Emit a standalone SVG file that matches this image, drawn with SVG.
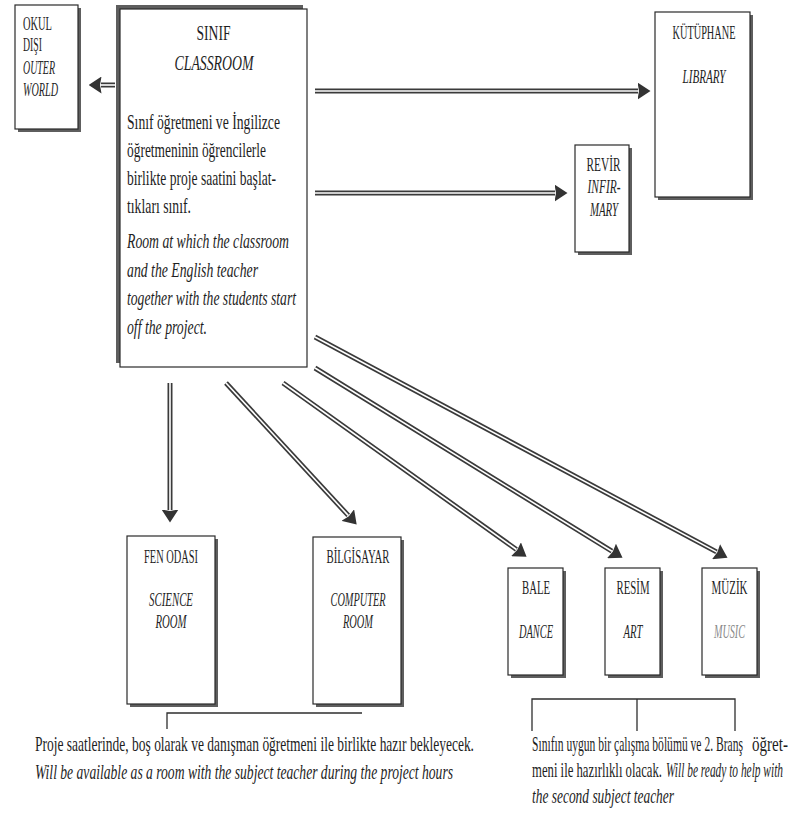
<svg xmlns="http://www.w3.org/2000/svg" width="791" height="819" viewBox="0 0 791 819">
<style>
.bg{fill:#fff}
.box{fill:#fff;stroke:#2a2a2a;stroke-width:1.2}
.shadow{fill:#5e5e5e}
.t{font-family:'Liberation Serif','Times New Roman',serif;fill:#1e1e1e}
.i{font-style:italic}
.s18{font-size:18.5px}
.s22{font-size:22px}
.s21{font-size:21px}
.m{text-anchor:middle}
.ao{stroke:#3a3a3a;stroke-width:5;fill:none}
.ai{stroke:#fff;stroke-width:1.6;fill:none}
.br{stroke:#2e2e2e;stroke-width:1.3;fill:none}
</style>
<defs>
<marker id="head" markerUnits="userSpaceOnUse" markerWidth="13" markerHeight="17" viewBox="0 0 13 17" refX="0.5" refY="8.5" orient="auto">
<path d="M0,0 L13,8.5 L0,17 L1.5,8.5 z" fill="#333"/>
</marker>
</defs>
<rect class="bg" x="0" y="0" width="791" height="819"/>

<g id="connectors">
<path class="ao" d="M115,85 L101,85" marker-end="url(#head)"/><path class="ai" d="M115,85 L101,85"/>
<path class="ao" d="M315,91 L638,91" marker-end="url(#head)"/><path class="ai" d="M315,91 L638,91"/>
<path class="ao" d="M315,193 L555,193" marker-end="url(#head)"/><path class="ai" d="M315,193 L555,193"/>
<path class="ao" d="M170,383 L170,510" marker-end="url(#head)"/><path class="ai" d="M170,383 L170,510"/>
<path class="ao" d="M226,383 L348.2,515.4" marker-end="url(#head)"/><path class="ai" d="M226,383 L348.2,515.4"/>
<path class="ao" d="M283,383 L516.4,549.5" marker-end="url(#head)"/><path class="ai" d="M283,383 L516.4,549.5"/>
<path class="ao" d="M315,368 L611.9,551.2" marker-end="url(#head)"/><path class="ai" d="M315,368 L611.9,551.2"/>
<path class="ao" d="M315,337 L716.5,551.9" marker-end="url(#head)"/><path class="ai" d="M315,337 L716.5,551.9"/>
<path class="br" d="M167,729 L167,713 L362,713"/>
<path class="br" d="M532,731 L532,699 L735,699 L735,731 M637,699 L637,731"/>
</g>

<g id="outer-world">
<rect class="shadow" x="18" y="8" width="63" height="124"/>
<rect class="box" x="15" y="5" width="63" height="124"/>
<text class="t s18" x="23" y="30" textLength="29" lengthAdjust="spacingAndGlyphs">OKUL</text>
<text class="t s18" x="23" y="51" textLength="19" lengthAdjust="spacingAndGlyphs">DIŞI</text>
<text class="t s18 i" x="23" y="74" textLength="32" lengthAdjust="spacingAndGlyphs">OUTER</text>
<text class="t s18 i" x="23" y="96" textLength="35" lengthAdjust="spacingAndGlyphs">WORLD</text>
</g>

<g id="classroom">
<rect class="shadow" x="116" y="5" width="187" height="358"/>
<rect class="box" x="120" y="9" width="187" height="358"/>
<text class="t m" style="font-size:20px" x="213.5" y="40" textLength="34" lengthAdjust="spacingAndGlyphs">SINIF</text>
<text class="t m i" style="font-size:22px" x="214" y="70" textLength="79" lengthAdjust="spacingAndGlyphs">CLASSROOM</text>
<text class="t s22" x="127" y="129" textLength="153" lengthAdjust="spacingAndGlyphs">Sınıf öğretmeni ve İngilizce</text>
<text class="t s22" x="127" y="157" textLength="139" lengthAdjust="spacingAndGlyphs">öğretmeninin öğrencilerle</text>
<text class="t s22" x="127" y="185" textLength="149" lengthAdjust="spacingAndGlyphs">birlikte proje saatini başlat-</text>
<text class="t s22" x="127" y="213" textLength="64" lengthAdjust="spacingAndGlyphs">tıkları sınıf.</text>
<text class="t s22 i" x="127" y="248" textLength="162" lengthAdjust="spacingAndGlyphs">Room at which the classroom</text>
<text class="t s22 i" x="127" y="277" textLength="131" lengthAdjust="spacingAndGlyphs">and the English teacher</text>
<text class="t s22 i" x="127" y="305" textLength="169" lengthAdjust="spacingAndGlyphs">together with the students start</text>
<text class="t s22 i" x="127" y="334" textLength="80" lengthAdjust="spacingAndGlyphs">off the project.</text>
</g>

<g id="library">
<rect class="shadow" x="658" y="15" width="95" height="185"/>
<rect class="box" x="655" y="12" width="95" height="185"/>
<text class="t s18 m" x="704" y="39" textLength="63" lengthAdjust="spacingAndGlyphs">KÜTÜPHANE</text>
<text class="t s18 m i" x="704" y="83" textLength="43" lengthAdjust="spacingAndGlyphs">LIBRARY</text>
</g>

<g id="infirmary">
<rect class="shadow" x="578" y="148" width="54" height="107"/>
<rect class="box" x="575" y="145" width="54" height="107"/>
<text class="t s18 m" x="603.5" y="171" textLength="34" lengthAdjust="spacingAndGlyphs">REVİR</text>
<text class="t s18 m i" x="604" y="193" textLength="33" lengthAdjust="spacingAndGlyphs">INFIR-</text>
<text class="t s18 m i" x="604" y="216" textLength="28" lengthAdjust="spacingAndGlyphs">MARY</text>
</g>

<g id="science-room">
<rect class="shadow" x="130" y="539" width="88" height="168"/>
<rect class="box" x="127" y="536" width="88" height="168"/>
<text class="t s18 m" x="171" y="563" textLength="54" lengthAdjust="spacingAndGlyphs">FEN ODASI</text>
<text class="t s18 m i" x="171" y="606" textLength="44" lengthAdjust="spacingAndGlyphs">SCIENCE</text>
<text class="t s18 m i" x="171" y="628" textLength="31" lengthAdjust="spacingAndGlyphs">ROOM</text>
</g>

<g id="computer-room">
<rect class="shadow" x="316" y="540" width="88" height="167"/>
<rect class="box" x="313" y="537" width="88" height="167"/>
<text class="t s18 m" x="358" y="563" textLength="63" lengthAdjust="spacingAndGlyphs">BİLGİSAYAR</text>
<text class="t s18 m i" x="358" y="606" textLength="55" lengthAdjust="spacingAndGlyphs">COMPUTER</text>
<text class="t s18 m i" x="358" y="628" textLength="30" lengthAdjust="spacingAndGlyphs">ROOM</text>
</g>

<g id="dance">
<rect class="shadow" x="511" y="571" width="55" height="107"/>
<rect class="box" x="508" y="568" width="55" height="107"/>
<text class="t s18 m" x="536" y="594" textLength="28" lengthAdjust="spacingAndGlyphs">BALE</text>
<text class="t s18 m i" x="536" y="638" textLength="34" lengthAdjust="spacingAndGlyphs">DANCE</text>
</g>

<g id="art">
<rect class="shadow" x="608" y="571" width="55" height="107"/>
<rect class="box" x="605" y="568" width="55" height="107"/>
<text class="t s18 m" x="633" y="594" textLength="33" lengthAdjust="spacingAndGlyphs">RESİM</text>
<text class="t s18 m i" x="633" y="638" textLength="19" lengthAdjust="spacingAndGlyphs">ART</text>
</g>

<g id="music">
<rect class="shadow" x="705" y="571" width="55" height="107"/>
<rect class="box" x="702" y="568" width="55" height="107"/>
<text class="t s18 m" x="729.5" y="594" textLength="36" lengthAdjust="spacingAndGlyphs">MÜZİK</text>
<text class="t s18 m i" x="729.5" y="638" textLength="31" lengthAdjust="spacingAndGlyphs" style="fill:#8a8a8a">MUSIC</text>
</g>

<g id="note-left">
<text class="t s22" x="35" y="751" textLength="439" lengthAdjust="spacingAndGlyphs">Proje saatlerinde, boş olarak ve danışman öğretmeni ile birlikte hazır bekleyecek.</text>
<text class="t s22 i" x="35" y="779" textLength="418" lengthAdjust="spacingAndGlyphs">Will be available as a room with the subject teacher during the project hours</text>
</g>

<g id="note-right">
<text class="t s21" x="532" y="751" textLength="211" lengthAdjust="spacingAndGlyphs">Sınıfın uygun bir çalışma bölümü ve 2. Branş</text>
<text class="t s21" x="752" y="751" textLength="36" lengthAdjust="spacingAndGlyphs">öğret-</text>
<text class="t s21" x="532" y="777" textLength="130" lengthAdjust="spacingAndGlyphs">meni ile hazırlıklı olacak.</text>
<text class="t s21 i" x="666" y="777" textLength="117" lengthAdjust="spacingAndGlyphs">Will be ready to help with</text>
<text class="t s21 i" x="532" y="803" textLength="142" lengthAdjust="spacingAndGlyphs">the second subject teacher</text>
</g>
</svg>
